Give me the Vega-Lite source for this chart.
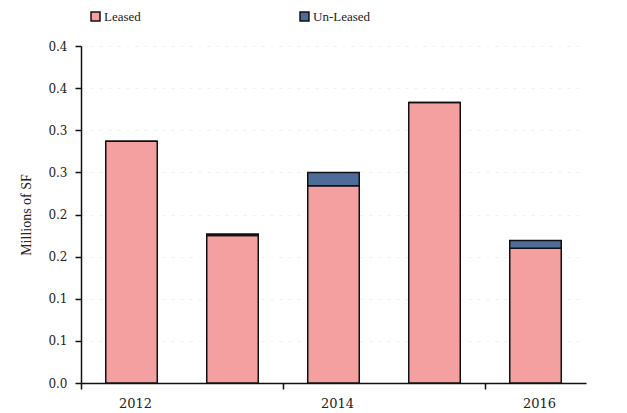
{
  "$schema": "https://vega.github.io/schema/vega-lite/v6.json",
  "width": 505,
  "height": 337,
  "autosize": {"type": "none"},
  "padding": {"left": 81, "top": 46, "right": 41, "bottom": 30},
  "background": "white",
  "data": {
    "values": [
      {"year": "2012", "type": "Leased", "value": 0.287, "ord": 1},
      {"year": "2012", "type": "Un-Leased", "value": 0.0, "ord": 2},
      {"year": "2013", "type": "Leased", "value": 0.175, "ord": 1},
      {"year": "2013", "type": "Un-Leased", "value": 0.002, "ord": 2},
      {"year": "2014", "type": "Leased", "value": 0.234, "ord": 1},
      {"year": "2014", "type": "Un-Leased", "value": 0.016, "ord": 2},
      {"year": "2015", "type": "Leased", "value": 0.333, "ord": 1},
      {"year": "2015", "type": "Un-Leased", "value": 0.0, "ord": 2},
      {"year": "2016", "type": "Leased", "value": 0.160, "ord": 1},
      {"year": "2016", "type": "Un-Leased", "value": 0.009, "ord": 2}
    ]
  },
  "mark": {"type": "bar", "stroke": "#111111", "strokeWidth": 1.5},
  "encoding": {
    "x": {
      "field": "year",
      "type": "ordinal",
      "scale": {"paddingInner": 0.49, "paddingOuter": 0.245},
      "axis": {
        "title": null,
        "values": ["2012", "2014", "2016"],
        "bandPosition": -0.48,
        "labelOffset": 4,
        "labelAngle": 0,
        "labelFont": "DejaVu Serif",
        "labelFontSize": 13,
        "labelColor": "#222222",
        "labelPadding": 8,
        "tickSize": 6,
        "tickWidth": 1.5,
        "tickColor": "#111111",
        "domainColor": "#111111",
        "domainWidth": 1.5
      }
    },
    "y": {
      "field": "value",
      "type": "quantitative",
      "stack": "zero",
      "scale": {"domain": [0, 0.4], "nice": false},
      "axis": {
        "title": "Millions of SF",
        "titleFont": "Liberation Serif",
        "titleFontSize": 14,
        "titleFontWeight": "normal",
        "titleColor": "#222222",
        "titlePadding": 14,
        "values": [0, 0.05, 0.1, 0.15, 0.2, 0.25, 0.3, 0.35, 0.4],
        "labelExpr": "format(round(datum.value*10+0.49)/10, '.1f')",
        "labelFont": "DejaVu Serif",
        "labelFontSize": 12,
        "labelColor": "#222222",
        "labelPadding": 8,
        "tickSize": 6,
        "tickWidth": 1.5,
        "tickColor": "#111111",
        "domainColor": "#111111",
        "domainWidth": 1.5,
        "grid": true,
        "gridColor": "#f0f0f0",
        "gridDash": [3, 6]
      }
    },
    "color": {
      "field": "type",
      "type": "nominal",
      "scale": {"domain": ["Leased", "Un-Leased"], "range": ["#F5A0A0", "#4D6C9A"]},
      "legend": {
        "title": null,
        "orient": "none",
        "direction": "horizontal",
        "legendX": 8,
        "legendY": -36,
        "symbolType": "square",
        "symbolSize": 80,
        "symbolStrokeColor": "#111111",
        "symbolStrokeWidth": 1.5,
        "labelFont": "Liberation Serif",
        "labelFontSize": 13,
        "labelColor": "#222222",
        "labelOffset": 2,
        "columnPadding": 156
      }
    },
    "order": {"field": "ord", "type": "quantitative"}
  },
  "config": {"view": {"stroke": null}}
}
